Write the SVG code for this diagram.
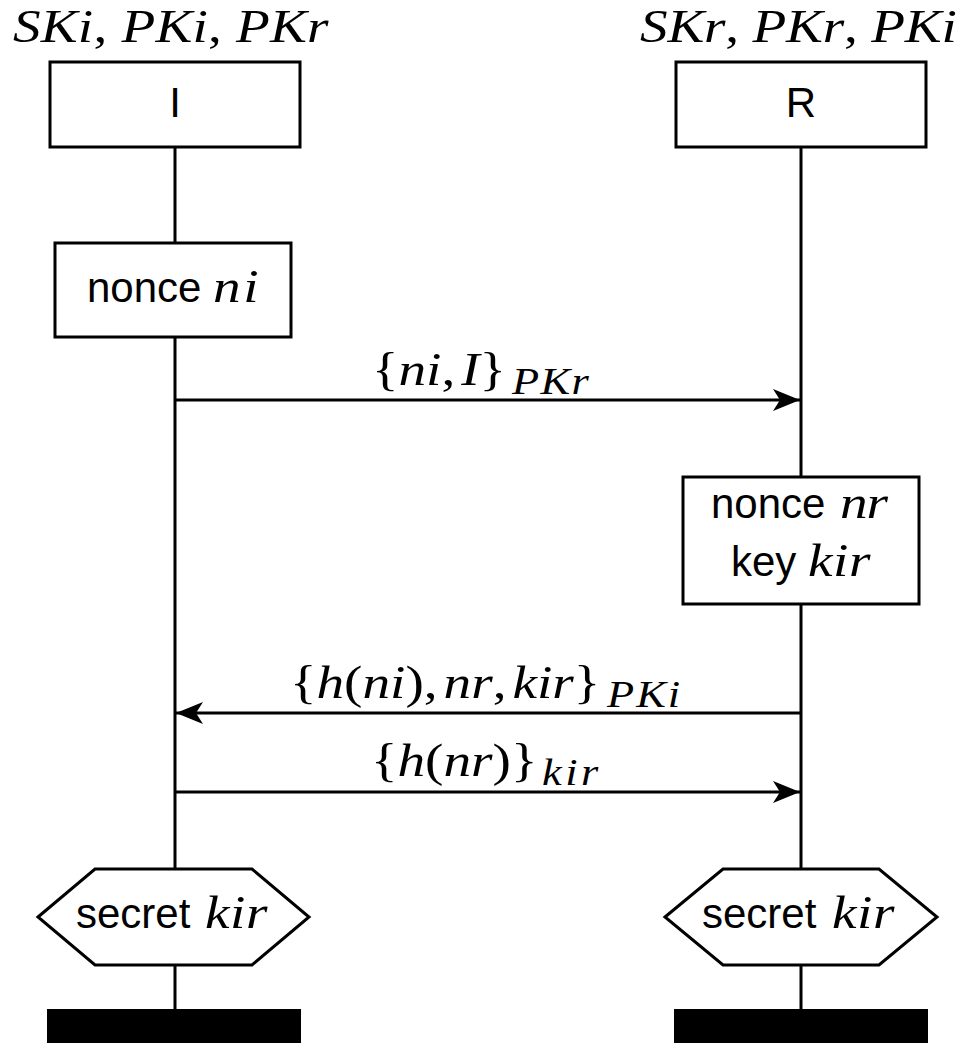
<svg xmlns="http://www.w3.org/2000/svg" width="972" height="1043" viewBox="0 0 972 1043">
<style>
.ln{stroke:#000;stroke-width:3;fill:none}
.bx{stroke:#000;stroke-width:3;fill:#fff}
.s{font-family:"Liberation Sans",Arial,sans-serif;font-size:42px;fill:#000}
.m{font-family:"Liberation Serif","Times New Roman",serif;font-style:italic;font-size:46px;fill:#000}
.sub{font-size:37px}
.r{font-style:normal}
</style>
<defs>
<marker id="ah" markerUnits="userSpaceOnUse" viewBox="0 0 30 24" markerWidth="30" markerHeight="24" refX="29" refY="12" orient="auto">
<path d="M29,12 L2,1 L9,12 L2,23 Z" fill="#000"/>
</marker>
</defs>
<rect width="972" height="1043" fill="#fff"/>
<g id="lifelines">
<line class="ln" x1="175" y1="147" x2="175" y2="1009"/>
<line class="ln" x1="801" y1="147" x2="801" y2="1009"/>
</g>
<g id="title-I">
<text class="m" transform="translate(13,42) scale(1.2,1)" x="0" y="0" font-size="44" textLength="263" lengthAdjust="spacing">SKi<tspan class="r">,</tspan> PKi<tspan class="r">,</tspan> PKr</text>
</g>
<g id="title-R">
<text class="m" transform="translate(640,42) scale(1.2,1)" x="0" y="0" font-size="44" textLength="264" lengthAdjust="spacing">SKr<tspan class="r">,</tspan> PKr<tspan class="r">,</tspan> PKi</text>
</g>
<g id="node-I">
<rect class="bx" x="50" y="62" width="250" height="85"/>
<text class="s" x="175" y="117" text-anchor="middle">I</text>
</g>
<g id="node-R">
<rect class="bx" x="676" y="62" width="250" height="85"/>
<text class="s" x="801" y="117" text-anchor="middle">R</text>
</g>
<g id="nonce-ni">
<rect class="bx" x="55" y="243" width="236" height="94"/>
<text class="s" x="87" y="302">nonce</text>
<text class="m" transform="translate(213,302) scale(1.2,1)" x="0" y="0" textLength="38" lengthAdjust="spacing">ni</text>
</g>
<g id="nonce-nr">
<rect class="bx" x="683" y="477" width="236" height="127"/>
<text class="s" x="711" y="518">nonce</text>
<text class="m" transform="translate(840,518) scale(1.2,1)" x="0" y="0" textLength="40" lengthAdjust="spacing">nr</text>
<text class="s" x="731" y="576">key</text>
<text class="m" transform="translate(808,576) scale(1.2,1)" x="0" y="0" textLength="52" lengthAdjust="spacing">kir</text>
</g>
<g id="secret-I">
<polygon class="bx" points="38,917 95,869 252,869 309,917 252,965 95,965"/>
<text class="s" x="76" y="928">secret</text>
<text class="m" transform="translate(205,928) scale(1.2,1)" x="0" y="0" textLength="52" lengthAdjust="spacing">kir</text>
</g>
<g id="secret-R">
<polygon class="bx" points="665,917 723,869 879,869 937,917 879,965 723,965"/>
<text class="s" x="702" y="928">secret</text>
<text class="m" transform="translate(832,928) scale(1.2,1)" x="0" y="0" textLength="52" lengthAdjust="spacing">kir</text>
</g>
<g id="end-I"><rect x="47" y="1009" width="254" height="34" fill="#000"/></g>
<g id="end-R"><rect x="674" y="1009" width="254" height="34" fill="#000"/></g>
<g id="connectors">
<line class="ln" x1="175" y1="400" x2="800" y2="400" marker-end="url(#ah)"/>
<line class="ln" x1="801" y1="713" x2="176" y2="713" marker-end="url(#ah)"/>
<line class="ln" x1="175" y1="792" x2="800" y2="792" marker-end="url(#ah)"/>
<text class="m" transform="translate(372,385) scale(1.2,1)" x="0" y="0"><tspan class="r">{</tspan>ni<tspan class="r">,</tspan><tspan dx="5">I</tspan><tspan class="r">}</tspan></text>
<text class="m sub" transform="translate(512,394) scale(1.2,1)" x="0" y="0" textLength="64" lengthAdjust="spacing">PKr</text>
<text class="m" transform="translate(290,698) scale(1.2,1)" x="0" y="0"><tspan class="r">{</tspan>h<tspan class="r">(</tspan>ni<tspan class="r">),</tspan><tspan dx="5">nr</tspan><tspan class="r">,</tspan><tspan dx="5">kir</tspan><tspan class="r">}</tspan></text>
<text class="m sub" transform="translate(607,707) scale(1.2,1)" x="0" y="0" textLength="61" lengthAdjust="spacing">PKi</text>
<text class="m" transform="translate(371,776) scale(1.2,1)" x="0" y="0"><tspan class="r">{</tspan>h<tspan class="r">(</tspan>nr<tspan class="r">)}</tspan></text>
<text class="m sub" transform="translate(542,785) scale(1.2,1)" x="0" y="0" textLength="47" lengthAdjust="spacing">kir</text>
</g>
</svg>
